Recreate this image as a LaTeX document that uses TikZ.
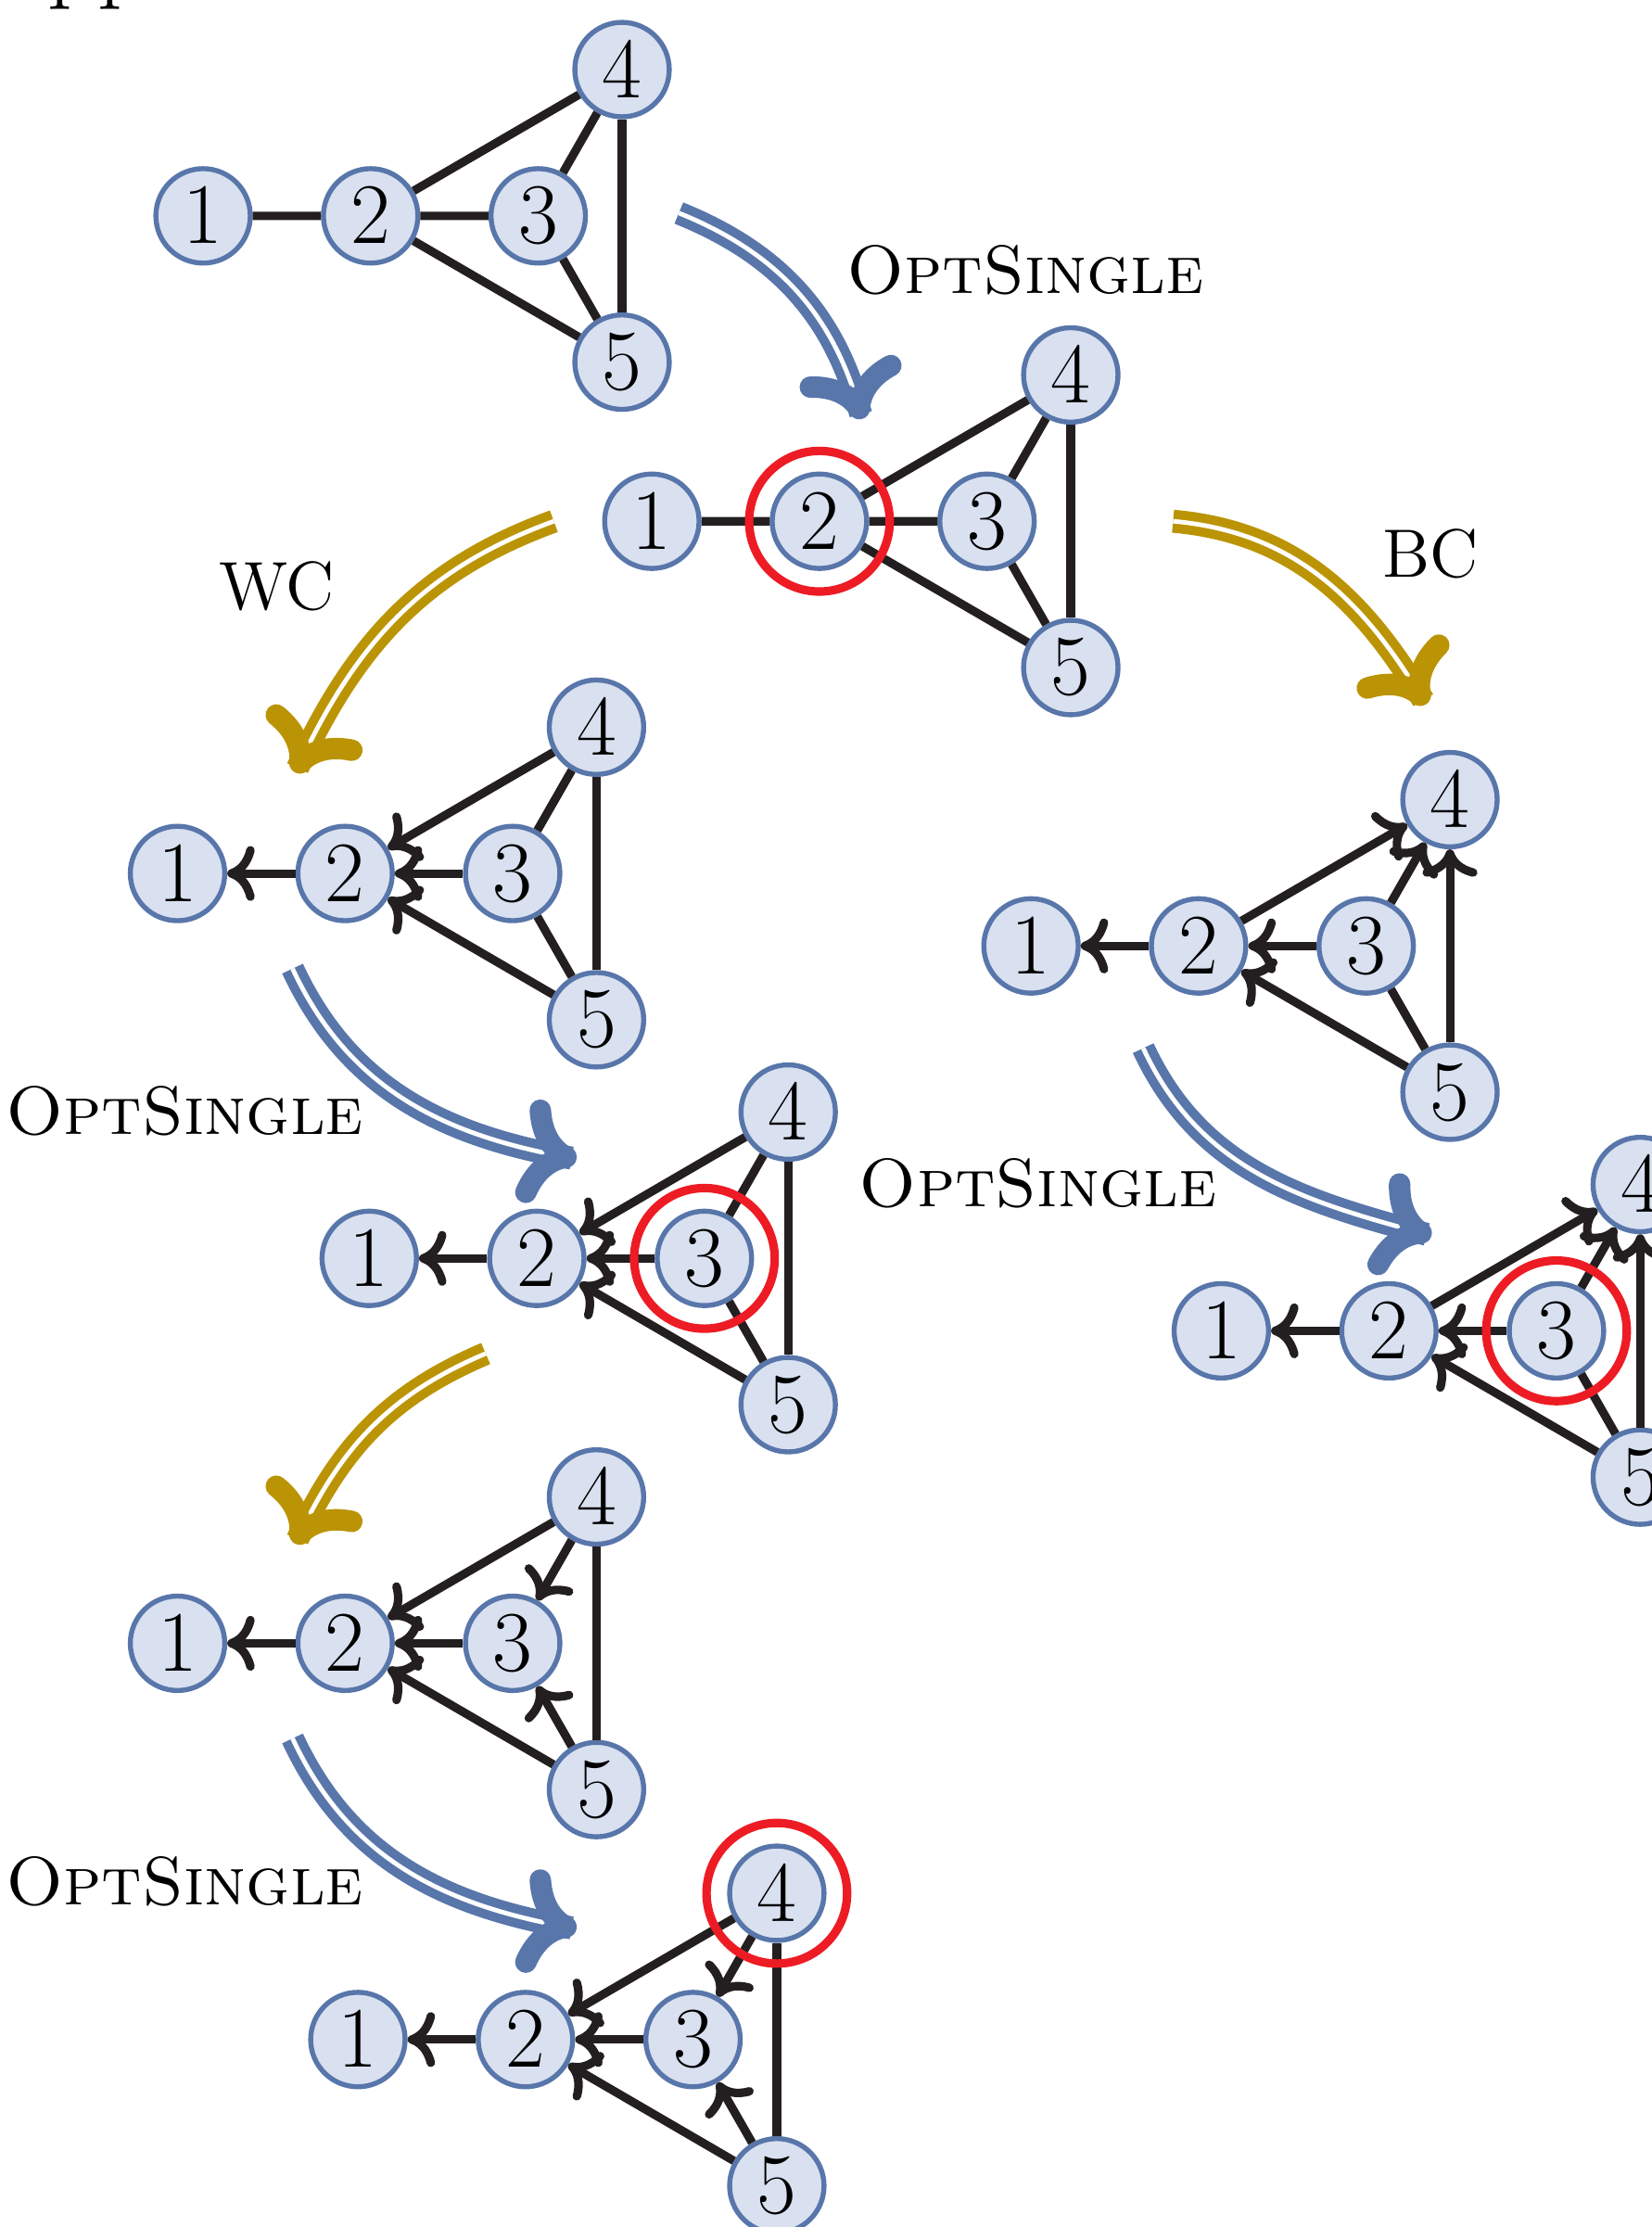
\documentclass[tikz,border=0pt]{standalone}
\usepackage{tikz}
\usetikzlibrary{arrows.meta}

\definecolor{vblue}{RGB}{88,118,170}
\definecolor{vfill}{RGB}{217,224,240}
\definecolor{gold}{RGB}{187,148,6}
\definecolor{ringred}{RGB}{237,28,36}
\definecolor{ink}{RGB}{35,31,32}

\tikzset{
  vtx/.style={circle,draw=vblue,fill=vfill,line width=1pt,minimum size=0.665cm,
    inner sep=0pt,font=\fontsize{17.3}{20}\selectfont},
  edge/.style={draw=ink,line width=1.7pt},
  dedge/.style={edge,-{Computer Modern Rightarrow[length=5.5pt,width=11pt]}},
  ring/.style={draw=ringred,line width=1.7pt},
  stepshaft/.style={line width=1.85pt,double=white,double distance=0.9pt,shorten >=1pt},
  steptip/.style={line width=4.3pt,line cap=round,-{Computer Modern Rightarrow[length=11pt,width=21pt]}},
  lbl/.style={font=\fontsize{13.7}{16}\selectfont}
}

\begin{document}
\begin{tikzpicture}
  \useasboundingbox (0,0) rectangle (11.63,-15.68);
  \node[anchor=base west,inner sep=0pt,font=\fontsize{19.7}{23}\selectfont] (head) at (0.33,0.07) {pp};
  % the eight graphs
  \foreach \g/\x/\y in {a/1.43/-1.52, b/4.59/-3.67, c/1.25/-6.15, d/7.26/-6.66,
      e/2.60/-8.86, f/8.60/-9.37, g/1.25/-11.57, h/2.52/-14.36}{
    \node[vtx] (\g1) at (\x,\y) {$1$};
    \node[vtx] (\g2) at (\x+1.18,\y) {$2$};
    \node[vtx] (\g3) at (\x+2.36,\y) {$3$};
    \node[vtx] (\g4) at (\x+2.95,\y+1.03) {$4$};
    \node[vtx] (\g5) at (\x+2.95,\y-1.03) {$5$};
  }
  % undirected edges
  \foreach \g in {a,b}{
    \draw[edge] (\g1)--(\g2) (\g2)--(\g3) (\g2)--(\g4) (\g2)--(\g5);}
  \foreach \g in {a,b,c,e}{\draw[edge] (\g3)--(\g4) (\g3)--(\g5);}
  \foreach \g in {a,b,c,e,g,h}{\draw[edge] (\g4)--(\g5);}
  \foreach \g in {d,f}{\draw[edge] (\g3)--(\g5);}
  % directed edges
  \foreach \g in {c,d,e,f,g,h}{
    \draw[dedge] (\g2)--(\g1); \draw[dedge] (\g3)--(\g2); \draw[dedge] (\g5)--(\g2);}
  \foreach \g in {c,e,g,h}{\draw[dedge] (\g4)--(\g2);}
  \foreach \g in {d,f}{
    \draw[dedge] (\g2)--(\g4); \draw[dedge] (\g3)--(\g4); \draw[dedge] (\g5)--(\g4);}
  \foreach \g in {g,h}{\draw[dedge] (\g4)--(\g3); \draw[dedge] (\g5)--(\g3);}
  % chosen vertices
  \foreach \v in {b2,e3,f3,h4}{\draw[ring] (\v) circle (0.495);}
  % steps
  \coordinate (s1) at (4.78,-1.50); \coordinate (t1) at (6.07,-2.95);
  \coordinate (s2) at (3.90,-3.67); \coordinate (t2) at (2.08,-5.44);
  \coordinate (s3) at (8.26,-3.67); \coordinate (t3) at (10.04,-4.96);
  \coordinate (s4) at (2.06,-6.82); \coordinate (t4) at (4.06,-8.16);
  \coordinate (s5) at (8.05,-7.38); \coordinate (t5) at (10.08,-8.70);
  \coordinate (s6) at (3.42,-9.53); \coordinate (t6) at (2.08,-10.87);
  \coordinate (s7) at (2.06,-12.24); \coordinate (t7) at (4.06,-13.58);
  \foreach \s/\t/\o/\i/\c in {s1/t1/-22/105/vblue, s2/t2/200/65/gold, s3/t3/-5/121/gold,
      s4/t4/-65/170/vblue, s5/t5/-65/165/vblue, s6/t6/203/65/gold, s7/t7/-65/170/vblue}{
    \draw[stepshaft,draw=\c] (\s) to[out=\o,in=\i] (\t);
    \draw[steptip,draw=\c] ([shift={(\i:0.14)}]\t) -- (\t);
  }
  \node[lbl] (l1) at (7.22,-1.90) {\textsc{OptSingle}};
  \node[lbl] (l2) at (1.95,-4.13) {WC};
  \node[lbl] (l3) at (10.07,-3.90) {BC};
  \node[lbl] (l4) at (1.30,-7.82) {\textsc{OptSingle}};
  \node[lbl] (l5) at (7.31,-8.33) {\textsc{OptSingle}};
  \node[lbl] (l6) at (1.30,-13.25) {\textsc{OptSingle}};
\end{tikzpicture}
\end{document}
